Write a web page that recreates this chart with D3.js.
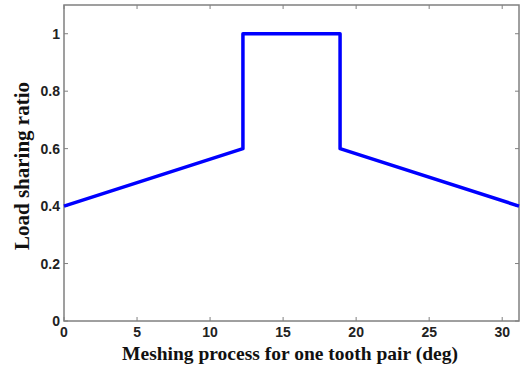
<!DOCTYPE html>
<html>
<head>
<meta charset="utf-8">
<script src="https://cdn.jsdelivr.net/npm/d3@7"></script>
<style>
  body { margin: 0; background: #fff; }
  svg { display: block; }
</style>
</head>
<body>
<svg id="chart" width="521" height="367"></svg>
<script>
// meshing angle (deg) and load sharing ratio
const angle = [0, 12.25, 12.25, 18.9, 18.9, 31.15];
const ratio = [0.4, 0.6, 1, 1, 0.6, 0.4];
const xTicks = [0, 5, 10, 15, 20, 25, 30];
const yTicks = [0, 0.2, 0.4, 0.6, 0.8, 1];

const svg = d3.select('#chart');
const plotLeft = 64, plotRight = 519, plotTop = 5, plotBottom = 321;

const x = d3.scaleLinear().domain([0, 31.15]).range([plotLeft, plotRight]);
const y = d3.scaleLinear().domain([0, 1.1]).range([plotBottom, plotTop]);

const axisColor = '#808080';
const tickFont = 'bold 14px "Liberation Sans", Arial, sans-serif';

// ticks, inward on all four sides
const tickLen = 4;
const g = svg.append('g');
xTicks.forEach(t => {
  g.append('line').attr('x1', x(t)).attr('x2', x(t)).attr('y1', plotBottom).attr('y2', plotBottom - tickLen)
    .attr('stroke', axisColor);
  g.append('line').attr('x1', x(t)).attr('x2', x(t)).attr('y1', plotTop).attr('y2', plotTop + tickLen)
    .attr('stroke', axisColor);
  g.append('text').attr('x', x(t)).attr('y', plotBottom + 16).attr('text-anchor', 'middle')
    .style('font', tickFont).attr('fill', '#222').text(t);
});
yTicks.forEach(t => {
  g.append('line').attr('x1', plotLeft).attr('x2', plotLeft + tickLen).attr('y1', y(t)).attr('y2', y(t))
    .attr('stroke', axisColor);
  g.append('line').attr('x1', plotRight).attr('x2', plotRight - tickLen).attr('y1', y(t)).attr('y2', y(t))
    .attr('stroke', axisColor);
  g.append('text').attr('x', plotLeft - 4).attr('y', y(t) + 5).attr('text-anchor', 'end')
    .style('font', tickFont).attr('fill', '#222').text(t);
});

// frame
svg.append('rect')
  .attr('x', plotLeft).attr('y', plotTop)
  .attr('width', plotRight - plotLeft).attr('height', plotBottom - plotTop)
  .attr('fill', 'none').attr('stroke', axisColor).attr('stroke-width', 1.5);

// data line
const line = d3.line().x((d, i) => x(angle[i])).y(d => y(d));
svg.append('path')
  .datum(ratio)
  .attr('d', line)
  .attr('fill', 'none')
  .attr('stroke', '#0000ff')
  .attr('stroke-width', 3.5)
  .attr('stroke-linejoin', 'round');

// axis labels
svg.append('text')
  .attr('x', 290).attr('y', 360)
  .attr('text-anchor', 'middle')
  .style('font', 'bold 19.5px "Liberation Serif", "Times New Roman", serif').attr('fill', '#111')
  .text('Meshing process for one tooth pair (deg)');
svg.append('text')
  .attr('transform', 'translate(29,166) rotate(-90)')
  .attr('text-anchor', 'middle')
  .style('font', 'bold 21px "Liberation Serif", "Times New Roman", serif').attr('fill', '#111')
  .text('Load sharing ratio');
</script>
</body>
</html>
